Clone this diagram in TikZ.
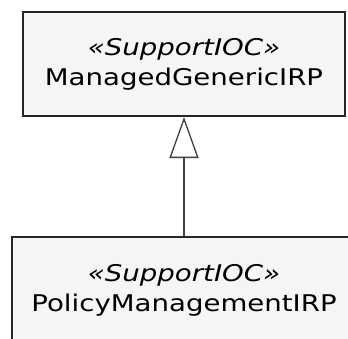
\documentclass[tikz,border=0pt]{standalone}
\usepackage{fontspec}
\setmainfont[FakeStretch=1.2]{DejaVu Sans}
\usetikzlibrary{arrows.meta}
\begin{document}
\begin{tikzpicture}[x=1pt,y=1pt,
	ioc/.style={draw=black!85,fill=black!4,line width=2pt,align=center,
		font=\fontsize{23}{30}\selectfont,inner sep=0pt},
	generalization/.style={draw=black!75,line width=1.3pt,
		-{Triangle[open,fill=white,length=41pt,width=29pt]}}]
			\useasboundingbox (0,0) rectangle (348,-338);
			\clip (0,0) rectangle (348,-338);
			\node[ioc,minimum width=322pt,minimum height=104pt] (managed) at (184,-64)
				{\textit{«SupportIOC»}\\ManagedGenericIRP};
			\node[ioc,minimum width=344pt,minimum height=106pt] (policy) at (184,-290)
				{\textit{«SupportIOC»}\\PolicyManagementIRP};
			\draw[generalization] (policy) -- (managed);
\end{tikzpicture}
\end{document}
